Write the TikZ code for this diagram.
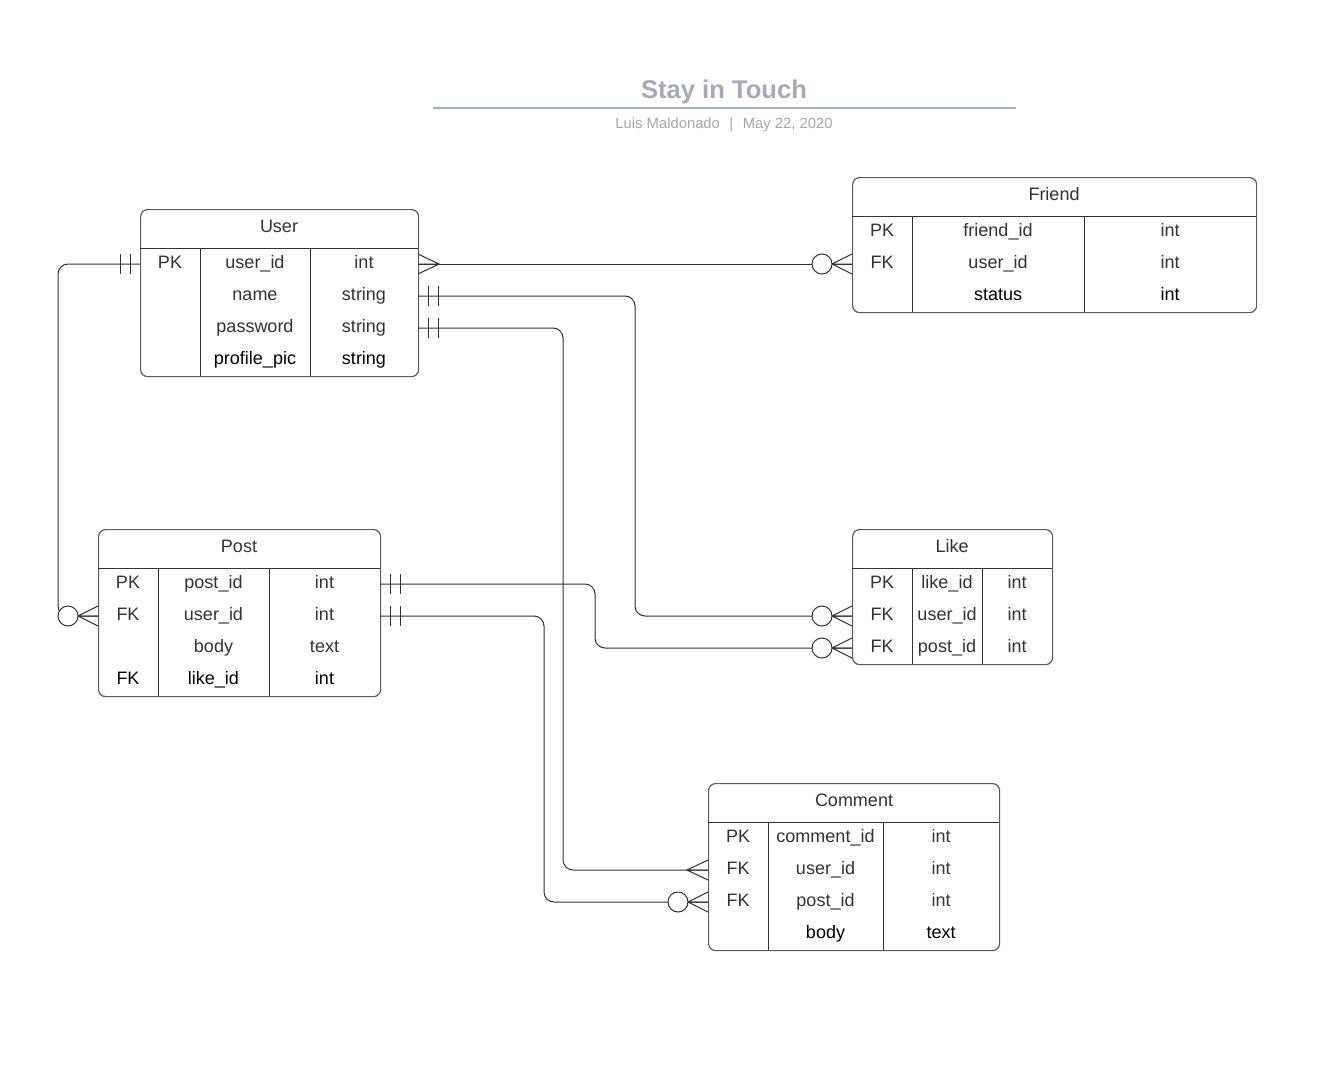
\documentclass[tikz,border=0pt]{standalone}
\usepackage{fontspec}
\setmainfont{Liberation Sans}
\definecolor{txt}{HTML}{333333}
\definecolor{bordc}{HTML}{5E5E5E}
\definecolor{linec}{HTML}{333333}
\definecolor{titlec}{HTML}{A5AAB5}
\definecolor{subc}{HTML}{A3A8B2}
\definecolor{rulec}{HTML}{A9AEB8}
\begin{document}
\begin{tikzpicture}[x=1pt,y=-1pt,
  tbl/.style={draw=bordc, line width=1.2pt, rounded corners=7pt, fill=white, anchor=north west, inner sep=0pt},
  inner/.style={draw=linec, line width=1pt},
  cell/.style={anchor=base, inner sep=0pt, text=txt, font=\fontsize{18}{21}\selectfont},
  lastcell/.style={cell, text=black},
  conn/.style={draw=linec, line width=1pt},
  pics/crowmany/.style={code={\draw[conn] (0,-10) -- (21,0) -- (0,10) (0,0) -- (21,0);}},
  pics/zeromany/.style={code={\draw[conn] (0,-10) -- (20,0) -- (0,10) (0,0) -- (20,0);
      \draw[conn, fill=white] (30,0) circle[radius=10pt];}},
  pics/onebar/.style={code={\draw[conn] (10,-10) -- (10,10) (20,-10) -- (20,10);}}
]
\fill[white] (0,0) rectangle (1338,1068);
\useasboundingbox (0,0) rectangle (1338,1068);

% Title
\node[anchor=base, inner sep=0pt, text=titlec, font=\fontsize{25.6}{30}\selectfont\bfseries] (title) at (724,98) {Stay in Touch};
\draw[draw=rulec, line width=2pt] (433,107.5) -- (1016,107.5);
\node[anchor=base, inner sep=0pt, text=subc, font=\fontsize{14.8}{17}\selectfont] (subtitle) at (724,128.5) {Luis Maldonado\hspace{9.5pt}|\hspace{9.5pt}May 22, 2020};

% ---------- User ----------
\node[tbl, minimum width=278pt, minimum height=167pt] (user) at (140,209) {};
\draw[inner] (140,248) -- (418,248) (200,248) -- (200,376) (310,248) -- (310,376);
\node[cell] (user-h) at (279,232.5) {User};
\node[cell] (u-pk) at (170,268) {PK};
\node[cell] (u-a1) at (255,268) {user\_id};
\node[cell] (u-t1) at (364,268) {int};
\node[cell] (u-a2) at (255,300) {name};
\node[cell] (u-t2) at (364,300) {string};
\node[cell] (u-a3) at (255,332) {password};
\node[cell] (u-t3) at (364,332) {string};
\node[lastcell] (u-a4) at (255,364) {profile\_pic};
\node[lastcell] (u-t4) at (364,364) {string};
\coordinate (u1r) at (418,264);
\coordinate (u1l) at (140,264);
\coordinate (u2r) at (418,296);
\coordinate (u3r) at (418,328);

% ---------- Friend ----------
\node[tbl, minimum width=404pt, minimum height=135pt] (friend) at (852,177) {};
\draw[inner] (852,216) -- (1256,216) (912,216) -- (912,312) (1084,216) -- (1084,312);
\node[cell] (friend-h) at (1054,200.5) {Friend};
\node[cell] (f-pk) at (882,236) {PK};
\node[cell] (f-a1) at (998,236) {friend\_id};
\node[cell] (f-t1) at (1170,236) {int};
\node[cell] (f-fk) at (882,268) {FK};
\node[cell] (f-a2) at (998,268) {user\_id};
\node[cell] (f-t2) at (1170,268) {int};
\node[lastcell] (f-a3) at (998,300) {status};
\node[lastcell] (f-t3) at (1170,300) {int};
\coordinate (f2l) at (852,264);

% ---------- Post ----------
\node[tbl, minimum width=282pt, minimum height=167pt] (post) at (98,529) {};
\draw[inner] (98,568) -- (380,568) (158,568) -- (158,696) (269,568) -- (269,696);
\node[cell] (post-h) at (239,552.5) {Post};
\node[cell] (p-pk) at (128,588) {PK};
\node[cell] (p-a1) at (213.5,588) {post\_id};
\node[cell] (p-t1) at (324.5,588) {int};
\node[cell] (p-fk) at (128,620) {FK};
\node[cell] (p-a2) at (213.5,620) {user\_id};
\node[cell] (p-t2) at (324.5,620) {int};
\node[cell] (p-a3) at (213.5,652) {body};
\node[cell] (p-t3) at (324.5,652) {text};
\node[lastcell] (p-fk4) at (128,684) {FK};
\node[lastcell] (p-a4) at (213.5,684) {like\_id};
\node[lastcell] (p-t4) at (324.5,684) {int};
\coordinate (p1r) at (380,584);
\coordinate (p2r) at (380,616);
\coordinate (p2l) at (98,616);

% ---------- Like ----------
\node[tbl, minimum width=200pt, minimum height=135pt] (like) at (852,529) {};
\draw[inner] (852,568) -- (1052,568) (912,568) -- (912,664) (982,568) -- (982,664);
\node[cell] (like-h) at (952,552.5) {Like};
\node[cell] (l-pk) at (882,588) {PK};
\node[cell] (l-a1) at (947,588) {like\_id};
\node[cell] (l-t1) at (1017,588) {int};
\node[cell] (l-fk2) at (882,620) {FK};
\node[cell] (l-a2) at (947,620) {user\_id};
\node[cell] (l-t2) at (1017,620) {int};
\node[cell] (l-fk3) at (882,652) {FK};
\node[cell] (l-a3) at (947,652) {post\_id};
\node[cell] (l-t3) at (1017,652) {int};
\coordinate (l2l) at (852,616);
\coordinate (l3l) at (852,648);

% ---------- Comment ----------
\node[tbl, minimum width=291pt, minimum height=167pt] (comment) at (708,783) {};
\draw[inner] (708,822) -- (999,822) (768,822) -- (768,950) (883,822) -- (883,950);
\node[cell] (comment-h) at (854,806.5) {Comment};
\node[cell] (c-pk) at (738,842) {PK};
\node[cell] (c-a1) at (825.5,842) {comment\_id};
\node[cell] (c-t1) at (941,842) {int};
\node[cell] (c-fk2) at (738,874) {FK};
\node[cell] (c-a2) at (825.5,874) {user\_id};
\node[cell] (c-t2) at (941,874) {int};
\node[cell] (c-fk3) at (738,906) {FK};
\node[cell] (c-a3) at (825.5,906) {post\_id};
\node[cell] (c-t3) at (941,906) {int};
\node[lastcell] (c-a4) at (825.5,938) {body};
\node[lastcell] (c-t4) at (941,938) {text};
\coordinate (c2l) at (708,870);
\coordinate (c3l) at (708,902);

% ---------- Connectors ----------
\draw[conn] (u1r) -- (f2l);
\draw[conn, rounded corners=10pt] (u2r) -- ++(217,0) |- (l2l);
\draw[conn, rounded corners=10pt] (u3r) -- ++(145,0) |- (c2l);
\draw[conn, rounded corners=10pt] (u1l) -- ++(-82,0) |- (p2l);
\draw[conn, rounded corners=10pt] (p1r) -- ++(215,0) |- (l3l);
\draw[conn, rounded corners=10pt] (p2r) -- ++(164,0) |- (c3l);

% ---------- End marks ----------
\pic at (u1r) {crowmany};
\pic[xscale=-1] at (f2l) {zeromany};
\pic at (u2r) {onebar};
\pic at (u3r) {onebar};
\pic[xscale=-1] at (u1l) {onebar};
\pic[xscale=-1] at (p2l) {zeromany};
\pic at (p1r) {onebar};
\pic at (p2r) {onebar};
\pic[xscale=-1] at (l2l) {zeromany};
\pic[xscale=-1] at (l3l) {zeromany};
\pic[xscale=-1] at (c2l) {crowmany};
\pic[xscale=-1] at (c3l) {zeromany};
\end{tikzpicture}
\end{document}
